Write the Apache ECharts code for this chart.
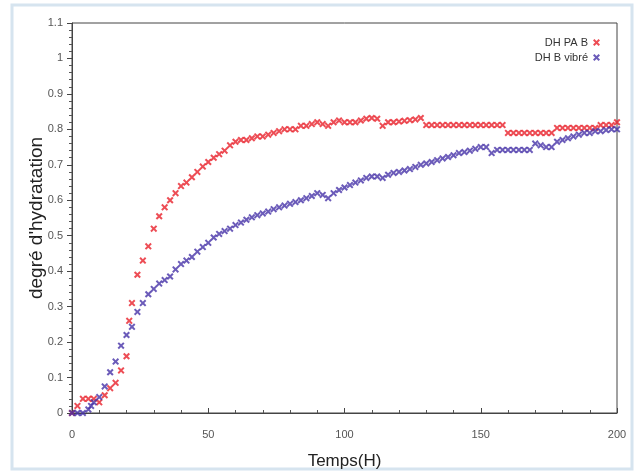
<!DOCTYPE html>
<html><head><meta charset="utf-8">
<script src="https://cdn.jsdelivr.net/npm/echarts@6/dist/echarts.min.js"></script>
<style>html,body{margin:0;padding:0;background:#fff}#c{width:641px;height:471px}</style>
</head><body><div id="c"></div>
<script>
var seriesNames = ["DH PA B", "DH B vibré"];
var xTitle = "Temps(H)";
var yTitle = "degré d'hydratation";
var timeRed = [0,2,4,6,8,10,12,14,16,18,20,21,22,24,26,28,30,32,34,36,38,40,42,44,46,48,50,52,54,56,58,60,62,64,66,68,70,72,74,76,78,80,82,84,86,88,90,92,94,96,98,100,102,104,106,108,110,112,114,116,118,120,122,124,126,128,130,132,134,136,138,140,142,144,146,148,150,152,154,156,158,160,162,164,166,168,170,172,174,176,178,180,182,184,186,188,190,192,194,196,198,200];
var valRed = [0.00,0.02,0.04,0.04,0.04,0.03,0.05,0.07,0.085,0.12,0.16,0.26,0.31,0.39,0.43,0.47,0.52,0.555,0.58,0.60,0.62,0.64,0.65,0.665,0.68,0.695,0.708,0.72,0.73,0.74,0.755,0.765,0.77,0.77,0.775,0.78,0.78,0.785,0.79,0.795,0.80,0.80,0.80,0.81,0.81,0.815,0.82,0.815,0.81,0.82,0.825,0.82,0.82,0.82,0.825,0.83,0.832,0.83,0.81,0.82,0.82,0.822,0.824,0.826,0.828,0.832,0.812,0.812,0.812,0.812,0.812,0.812,0.812,0.812,0.812,0.812,0.812,0.812,0.812,0.812,0.812,0.79,0.79,0.79,0.79,0.79,0.79,0.79,0.79,0.79,0.804,0.804,0.804,0.804,0.804,0.804,0.804,0.804,0.812,0.812,0.812,0.82];
var timeBlue = [0,2,4,6,7,8,10,12,14,16,18,20,22,24,26,28,30,32,34,36,38,40,42,44,46,48,50,52,54,56,58,60,62,64,66,68,70,72,74,76,78,80,82,84,86,88,90,92,94,96,98,100,102,104,106,108,110,112,114,116,118,120,122,124,126,128,130,132,134,136,138,140,142,144,146,148,150,152,154,156,158,160,162,164,166,168,170,172,174,176,178,180,182,184,186,188,190,192,194,196,198,200];
var valBlue = [0,0,0,0.01,0.02,0.03,0.045,0.075,0.115,0.145,0.19,0.22,0.243,0.285,0.31,0.335,0.35,0.365,0.375,0.385,0.405,0.42,0.43,0.44,0.455,0.468,0.48,0.495,0.505,0.513,0.52,0.53,0.537,0.545,0.552,0.558,0.563,0.568,0.575,0.58,0.585,0.59,0.595,0.60,0.606,0.612,0.62,0.615,0.606,0.62,0.629,0.636,0.643,0.65,0.656,0.663,0.667,0.667,0.663,0.672,0.677,0.68,0.684,0.688,0.694,0.70,0.704,0.708,0.713,0.718,0.722,0.727,0.733,0.736,0.74,0.745,0.75,0.75,0.733,0.742,0.742,0.742,0.742,0.742,0.742,0.742,0.76,0.755,0.75,0.75,0.765,0.77,0.775,0.78,0.785,0.79,0.79,0.795,0.795,0.798,0.80,0.80];

function pairs(t, v){ return t.map(function(x,i){ return [x, v[i]]; }); }
var xMark = 'path://M0,2L2,0L5,3L8,0L10,2L7,5L10,8L8,10L5,7L2,10L0,8L3,5Z';

var chart = echarts.init(document.getElementById('c'), null, {renderer:'canvas'});
chart.setOption({
  animation:false,
  backgroundColor:'#fff',
  graphic:[{type:'rect', shape:{x:12,y:5,width:620,height:464}, style:{fill:'none', stroke:'#d6e4ef', lineWidth:3}, z:-1}],
  grid:{left:72, right:24, top:23, bottom:58, outerBoundsMode:'none', containLabel:false, show:true, borderColor:'#444', borderWidth:1, backgroundColor:'#fff'},
  legend:{
    right:36, top:32, orient:'vertical', align:'right', itemGap:4, itemWidth:7, itemHeight:7,
    textStyle:{fontSize:11, color:'#333', fontFamily:'Liberation Sans'},
    data:[{name:seriesNames[0], icon:xMark},{name:seriesNames[1], icon:xMark}]
  },
  xAxis:{
    type:'value', min:0, max:200, interval:50,
    name:xTitle, nameLocation:'middle', nameGap:40, nameMoveOverlap:false,
    nameTextStyle:{fontSize:17, color:'#222', fontFamily:'Liberation Sans'},
    axisLine:{lineStyle:{color:'#444'}},
    axisTick:{inside:true, length:5, lineStyle:{color:'#444'}},
    minorTick:{show:true, splitNumber:5, length:3, lineStyle:{color:'#555'}},
    axisLabel:{fontSize:11, color:'#555', margin:16, fontFamily:'Liberation Sans'},
    splitLine:{show:false}
  },
  yAxis:{
    type:'value', min:0, max:1.1, interval:0.1,
    name:yTitle, nameLocation:'middle', nameGap:26, nameMoveOverlap:false,
    nameTextStyle:{fontSize:19, color:'#222', fontFamily:'Liberation Sans'},
    axisLine:{lineStyle:{color:'#444'}},
    axisTick:{length:5, lineStyle:{color:'#444'}},
    minorTick:{show:true, splitNumber:5, length:3, lineStyle:{color:'#555'}},
    axisLabel:{fontSize:11, color:'#555', margin:9, fontFamily:'Liberation Sans'},
    splitLine:{show:false}
  },
  series:[
    {name:seriesNames[0], type:'scatter', symbol:xMark, symbolSize:7, itemStyle:{color:'#e8202a'}, data:pairs(timeRed, valRed)},
    {name:seriesNames[1], type:'scatter', symbol:xMark, symbolSize:7, itemStyle:{color:'#4632a8'}, data:pairs(timeBlue, valBlue)}
  ]
});
</script></body></html>
